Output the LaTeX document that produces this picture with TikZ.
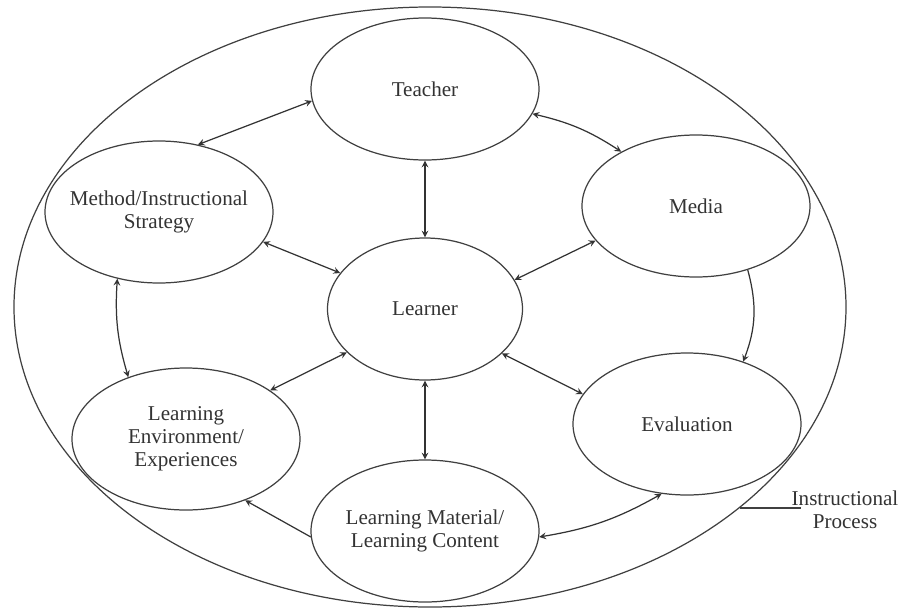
\documentclass[tikz,border=0pt]{standalone}
\usepackage{fontspec}
\setmainfont{Liberation Serif}
\usepackage{tikz}
\usetikzlibrary{shapes.geometric, arrows}
\usetikzlibrary{positioning}
\tikzstyle{bubble} = [
                ellipse,
                draw=black!75,
                line width=0.7pt,
                minimum width=4.56cm,
                minimum height=2.84cm,
                inner xsep=-3mm,
                inner ysep=0pt,
                align=center,
                text=black!80,
                font=\fontsize{12}{13}\selectfont
            ]
\tikzstyle{outerring} = [ellipse, draw=black!75, line width=0.7pt, minimum width=16.64cm, minimum height=12cm]
\tikzstyle{dualarrow} = [line width=0.7pt, draw=black!80, <->, >=stealth]
\tikzstyle{onearrow} = [line width=0.7pt, draw=black!80, ->, >=stealth]
\tikzstyle{link} = [line width=0.7pt, draw=black!75, -]

\begin{document}
\begin{tikzpicture}[node distance=4.4cm]
                                \useasboundingbox (-8.5,-6.02) rectangle (9.48,6.18);
                                \node (process) [outerring] at (0.1,0.04) {};
                                \node (learner) [bubble, minimum width=3.9cm] {Learner};
                                \node (teacher) [bubble, above of=learner] {Teacher};
                                \node (material) [bubble, below of=learner, yshift=-0.04cm] {Learning Material/\\Learning Content};
                                \node (method) [bubble, left of=learner, xshift=-0.92cm, yshift=1.94cm] {Method/Instructional\\Strategy};
                                \node (media) [bubble, right of=learner, xshift=1.02cm, yshift=2.06cm] {Media};
                                \node (environ) [bubble, left of=learner, xshift=-0.38cm, yshift=-2.6cm] {Learning\\Environment/\\Experiences};
                                \node (evaluation) [bubble, right of=learner, xshift=0.84cm, yshift=-2.3cm] {Evaluation};
                                \node (ipro) [align=center, inner sep=0pt, text=black!80, font=\fontsize{12}{13}\selectfont] at (8.4,-4.02) {Instructional\\Process};
                                \coordinate (tick) at (process.-33.5 -| ipro.west);
                                \draw [dualarrow] (teacher.186) -- (method.60);
                                \draw [dualarrow] (teacher.-13) to [bend left=10] (media.144);
                                \draw [dualarrow] (teacher.south) -- (learner.north);
                                \draw [dualarrow] (method.-16) -- (learner.157);
                                \draw [dualarrow] (media.199) -- (learner.18);
                                \draw [onearrow] (media.-51) to [bend left=18] (evaluation.48);
                                \draw [dualarrow] (method.238) to [bend right=10] (environ.133);
                                \draw [dualarrow] (environ.30) -- (learner.209);
                                \draw [dualarrow] (evaluation.164) -- (learner.-30);
                                \draw [dualarrow] (learner.south) -- (material.north);
                                \draw [dualarrow] (evaluation.250) to [bend left=10] (material.-3);
                                \draw [onearrow] (material.183) -- (environ.-46);
                                \draw [link] (process.-33.5) -- ([xshift=2mm]tick);
                            \end{tikzpicture}
\end{document}
